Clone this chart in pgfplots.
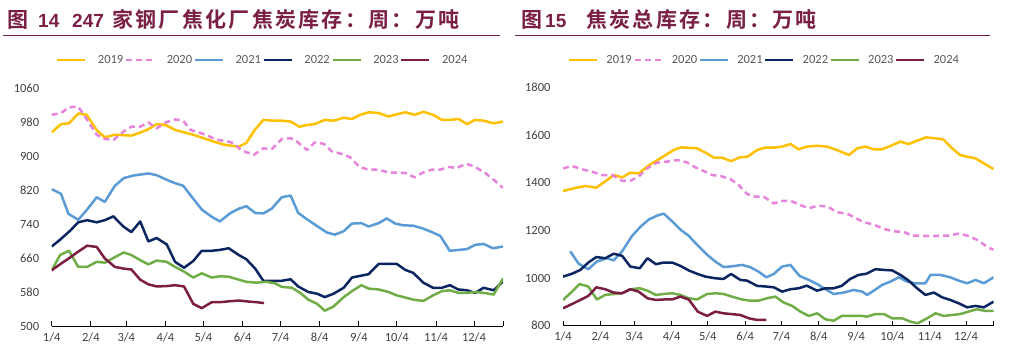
\documentclass[border=0pt]{standalone}
\usepackage{pgfplots}
\pgfplotsset{compat=1.18}
\usepackage{fontspec}
\setmainfont{Carlito}
\newfontfamily\cjk[BoldFont={Noto Sans CJK SC Bold}, LetterSpace=11]{Noto Sans CJK SC}
\newfontfamily\digitfont{Liberation Sans}
\definecolor{titlered}{HTML}{7A1F45}
\definecolor{c19}{HTML}{FFC000}
\definecolor{c20}{HTML}{E683DB}
\definecolor{c21}{HTML}{5B9BD5}
\definecolor{c22}{HTML}{0B2560}
\definecolor{c23}{HTML}{70AD47}
\definecolor{c24}{HTML}{7B1E42}
\definecolor{lblgray}{HTML}{404040}
\definecolor{leggray}{HTML}{595959}
\tikzset{
  tt/.style={anchor=base west, inner sep=0pt, text=titlered, font=\cjk\bfseries\fontsize{21}{23}\selectfont},
  td/.style={anchor=base west, inner sep=0pt, text=titlered, font=\digitfont\bfseries\fontsize{19}{21}\selectfont},
}
\pgfplotsset{
  mychart/.style={
    scale only axis, anchor=south west,
    xmin=0, xmax=357,
    axis x line*=bottom, axis y line*=left,
    x axis line style={-, black, line width=1pt},
    y axis line style={draw=none},
    xtick={0,31,59,90,120,151,181,212,243,273,304,334,357},
    xticklabels={1/4,2/4,3/4,4/4,5/4,6/4,7/4,8/4,9/4,10/4,11/4,12/4,},
    tick align=inside, major tick length=5pt,
    x tick style={black, line width=0.8pt},
    y tick style={draw=none},
    /pgf/number format/assume math mode=true,
    /pgf/number format/1000 sep={},
    tick label style={font=\fontsize{12.5}{14}\selectfont, text=lblgray},
    yticklabel style={xshift=-9pt},
    xticklabel style={yshift=-3pt},
    legend style={anchor=center, draw=none, fill=none, legend columns=6,
      font=\fontsize{12.5}{14}\selectfont, text=leggray,
      nodes={inner sep=1.5pt}},
    legend image code/.code={\draw[#1] (0pt,0pt) -- (28pt,0pt);},
    every axis plot/.append style={line width=2.5pt, line join=round, no marks},
  },
  s19/.style={c19},
  s20/.style={c20, dash pattern=on 6pt off 4pt},
  s21/.style={c21},
  s22/.style={c22},
  s23/.style={c23},
  s24/.style={c24},
}
\begin{document}
\begin{tikzpicture}
\useasboundingbox (0,0) rectangle (1014pt,362pt);
% titles
\node[tt] at (7pt,334pt) {图};
\node[td] at (38pt,334pt) {14};
\node[td] at (72pt,334pt) {247};
\node[tt] at (112pt,334pt) {家钢厂焦化厂焦炭库存：周：万吨};
\draw[titlered, line width=1pt] (3pt,326.3pt) -- (500pt,326.3pt);
\node[tt] at (521pt,334pt) {图};
\node[td] at (545pt,334pt) {15};
\node[tt] at (586pt,334pt) {焦炭总库存：周：万吨};
\draw[titlered, line width=1pt] (515pt,326.3pt) -- (990pt,326.3pt);

\begin{axis}[mychart, at={(51.7pt,36pt)}, width=451.3pt, height=238pt,
  ymin=500, ymax=1060, ytick={500,580,...,1060},
  legend style={at={(0.467,1.118)}, /tikz/every odd column/.append style={column sep=10pt}}]
\addplot[s19] coordinates {(0,956)(7.4,975)(13.7,977)(21,1000)(27.7,997)(35.6,961)(42,944)(50,950)(57,949)(63,948)(70,955)(76.5,963)(83,975)(90,973)(98,961)(105.5,955)(112,950)(120,942)(128,934)(136,927)(142.5,924)(148,922)(154,931)(161,963)(167.5,985)(175.5,983)(182,983)(189,981)(196,969)(202,973)(208,975)(216,985)(223,983)(231,990)(237.5,987)(244,997)(251,1003)(258.6,1001)(266.5,993)(273,998)(279.7,1003)(287,997)(294,1004)(301.6,997)(308.7,985)(315,985)(322,987)(328.5,975)(335,985)(341.7,983)(349.6,977)(357,981)};
\addplot[s20] coordinates {(0,997)(7.4,1001)(13.7,1015)(21,1016)(28,985)(35.6,950)(42,940)(49,938)(57,958)(63,969)(70,969)(76.5,979)(83,965)(90,979)(98,986)(104,983)(110,961)(117,955)(124,947)(130.6,938)(138.5,935)(144,930)(150,913)(160,903)(167.5,918)(174,916)(182,940)(189,942)(194,934)(202,914)(208,932)(215,929)(221.6,911)(229.5,905)(236,897)(243.5,874)(250.7,868)(258.6,868)(266.5,861)(273,861)(279.7,860)(287,850)(293.7,861)(300.8,868)(307.4,868)(314,874)(320.6,872)(328,882)(335,874)(343,860)(349.6,844)(357,825)};
\addplot[s21] coordinates {(0,822)(7.4,811)(13.2,764)(21,750)(28,774)(35.6,803)(42,792)(50,830)(57,848)(64.6,854)(76.5,859)(83,855)(91,844)(97.6,836)(104,830)(111.6,801)(118.7,774)(126.6,757)(133,746)(141,765)(148,776)(154,782)(161,766)(167.5,765)(174,776)(182,803)(189,807)(195,766)(203,749)(211,733)(217.7,720)(224,715)(231,723)(237.5,741)(245,742)(250.7,734)(258.6,742)(265,753)(271.8,741)(278,737)(286,736)(293,730)(300.8,721)(307.4,712)(314.8,677)(322,679)(328.5,681)(335,691)(341.7,693)(349,683)(357,687)};
\addplot[s22] coordinates {(0,687)(6.6,703)(14.5,724)(21,744)(28,749)(35.6,744)(42,749)(48.8,758)(56.7,734)(63,721)(70,746)(76.5,699)(83,707)(91,692)(97.6,651)(104.7,637)(112,653)(118.7,677)(126.6,677)(133,679)(140,683)(148,667)(154,657)(161,635)(167.5,606)(174,606)(181,606)(189,610)(195,593)(203,580)(210,576)(216,568)(223,576)(231,590)(237.5,614)(244,618)(250.7,622)(258.6,646)(266.5,646)(273,646)(279.7,632)(286,625)(294,602)(301.6,590)(308.7,590)(315,596)(321.6,586)(328.5,584)(335,578)(341.7,590)(349.6,584)(357,605)};
\addplot[s23] coordinates {(0,631)(6.6,667)(13.7,677)(21,639)(28,639)(35.6,651)(42,649)(50,662)(57,673)(63,667)(70,655)(76.5,645)(83,654)(91,651)(97.6,639)(104.7,628)(112,614)(118.7,624)(126.6,614)(133,617)(140,616)(148,609)(154,604)(162,602)(170,604)(177,600)(182,592)(190,590)(196.6,578)(203,562)(210,552)(216,536)(223,546)(231,568)(237.5,582)(245,596)(250.7,588)(258.6,586)(266.5,580)(273,572)(279.7,567)(286,562)(294,559)(301.6,572)(308.7,582)(315,584)(321.6,578)(328.5,578)(335,580)(341.7,578)(349.6,574)(357,612)};
\addplot[s24] coordinates {(0,631)(7,646)(14,660)(21,675)(28,689)(35.6,686)(42,659)(50,639)(57,635)(63,633)(70,609)(76.5,598)(83,593)(91,594)(97.6,596)(104.7,593)(112,552)(118.7,542)(126.6,556)(133,556)(140,558)(148,560)(154,558)(162,556)(168,554)};
\legend{2019,2020,2021,2022,2023,2024}
\end{axis}

\begin{axis}[mychart, at={(563pt,36.3pt)}, width=430.7pt, height=238.4pt,
  ymin=800, ymax=1800, ytick={800,1000,...,1800},
  legend style={at={(0.467,1.114)}, /tikz/every odd column/.append style={column sep=6.6pt}}]
\addplot[s19] coordinates {(0,1365)(8.8,1376)(18.5,1386)(27.6,1379)(36.5,1411)(42,1432)(49,1422)(55.8,1442)(62.7,1439)(72.4,1477)(82,1506)(91.8,1537)(97.8,1548)(111,1544)(118,1526)(125,1505)(131.8,1505)(139.3,1490)(146.5,1506)(153,1509)(160.9,1537)(167.8,1547)(174.7,1547)(181.6,1551)(188.5,1562)(195.4,1540)(202,1551)(210.6,1555)(219,1551)(227,1537)(237,1516)(243.8,1544)(250.7,1551)(257.6,1540)(264.5,1540)(271.4,1554)(279.7,1572)(286.6,1562)(293.5,1576)(301,1590)(308.7,1586)(315,1582)(322.6,1544)(329,1516)(335,1509)(341.9,1502)(348.8,1481)(357,1457)};
\addplot[s20] coordinates {(0,1460)(7.5,1470)(15.8,1456)(24,1446)(32.3,1432)(40.6,1432)(49,1408)(55.8,1408)(62.7,1425)(69.7,1460)(78,1484)(86.2,1488)(94.5,1495)(102.8,1485)(109.7,1464)(116.6,1449)(123.5,1432)(130.5,1428)(138.7,1415)(145.7,1390)(152.6,1352)(159.5,1341)(166.4,1341)(174.7,1313)(182.4,1324)(188.5,1324)(196.8,1306)(203.7,1292)(210.6,1303)(219,1301)(227,1276)(235.5,1270)(242.4,1252)(249.3,1234)(257.6,1224)(266,1206)(274,1196)(282.5,1193)(289.4,1178)(296.3,1178)(306,1175)(312.9,1178)(319.8,1178)(328,1186)(335,1178)(343,1161)(353,1126)(357,1119)};
\addplot[s21] coordinates {(6,1112)(13,1060)(21,1037)(28,1069)(36.5,1083)(42,1074)(49,1112)(57,1175)(64,1214)(71,1245)(78,1262)(83.5,1270)(90.4,1238)(97.3,1203)(104,1178)(111,1140)(119.4,1098)(126.3,1069)(133,1046)(140,1049)(148.4,1055)(155,1046)(162,1027)(168.6,1003)(174.7,1017)(181.6,1048)(188.5,1055)(196,1009)(203.7,992)(210.6,975)(217.5,953)(224.4,933)(232.7,939)(241,950)(248,943)(252,929)(257.6,947)(264.5,971)(271.4,985)(278.3,1003)(285.2,985)(292,978)(300.4,978)(304.6,1013)(312.9,1013)(321,1003)(328,989)(335,978)(342,992)(348.8,978)(357,1003)};
\addplot[s22] coordinates {(0,1006)(7.5,1018)(14.4,1034)(21,1065)(27.6,1088)(35,1083)(42,1102)(49,1093)(55.8,1048)(63.6,1041)(70,1083)(77,1058)(83.5,1065)(90.4,1065)(97.3,1051)(104.2,1032)(111,1018)(118,1006)(126.3,999)(133,996)(139.3,1017)(147,992)(152.6,989)(160.9,967)(169,964)(174.7,961)(181.6,943)(188.5,953)(195.4,957)(202,968)(210.6,947)(217.5,957)(224.4,957)(231,967)(238,996)(245,1013)(251.5,1018)(259,1037)(266,1034)(272.8,1032)(279.7,1013)(286.6,989)(293.5,957)(300.4,929)(307.4,939)(314.3,919)(321,908)(328,894)(335,877)(342,883)(348.8,877)(357,901)};
\addplot[s23] coordinates {(0,908)(7.5,943)(13.8,975)(21,964)(28,910)(35,929)(42,933)(49,936)(55.8,953)(63.6,957)(70,947)(77,929)(83.5,933)(90.4,936)(97.3,929)(104.2,915)(111,910)(119.4,933)(126.3,936)(133,933)(140,922)(148.4,910)(155,905)(162,905)(169,915)(176,922)(183,897)(190,883)(196.8,859)(203.7,841)(210.6,852)(217.5,827)(224.4,821)(231,841)(239.6,841)(248,841)(252,838)(259,849)(266,849)(272.8,831)(281,831)(288,817)(294,810)(301.8,831)(308.7,852)(315.6,841)(322.6,845)(329.5,849)(336,859)(343,869)(350,862)(357,862)};
\addplot[s24] coordinates {(0,873)(7.5,891)(14.4,908)(21,925)(27.6,961)(35,953)(42,939)(49,936)(55.8,953)(62.7,943)(70,915)(77,908)(83.5,910)(90.4,910)(97.3,922)(104.2,910)(111.7,859)(119.4,841)(126.3,859)(133,852)(139.3,849)(147,845)(154,831)(160.9,824)(168.6,824)};
\legend{2019,2020,2021,2022,2023,2024}
\end{axis}
\end{tikzpicture}
\end{document}
